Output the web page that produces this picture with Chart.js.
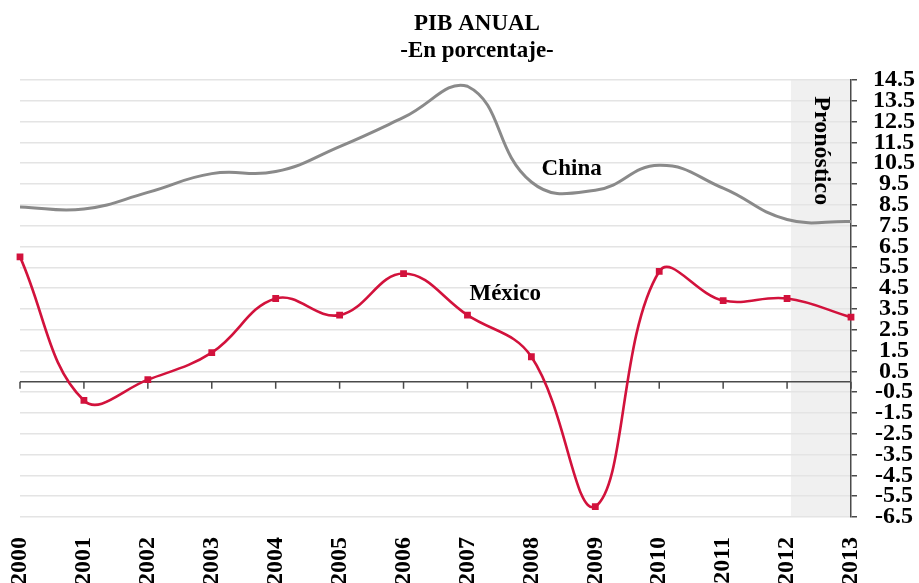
<!DOCTYPE html>
<html>
<head>
<meta charset="utf-8">
<script src="https://cdn.jsdelivr.net/npm/chart.js@4.4.1/dist/chart.umd.min.js"></script>
<style>
  html, body { margin: 0; padding: 0; background: #fff; overflow: hidden; }
  #wrap { width: 919px; height: 590px; }
</style>
</head>
<body>
<div id="wrap">
  <canvas id="pibChart" width="919" height="590"></canvas>
</div>

<script>
  // datos
  const years = ["2000", "2001", "2002", "2003", "2004", "2005", "2006",
                 "2007", "2008", "2009", "2010", "2011", "2012", "2013"];
  const mexico = [6.0, -0.9, 0.1, 1.4, 4.0, 3.2, 5.2, 3.2, 1.2, -6.0, 5.3, 3.9, 4.0, 3.1];
  const china = [8.4, 8.3, 9.1, 10.0, 10.1, 11.3, 12.7, 14.2, 9.6, 9.2, 10.4, 9.3, 7.8, 7.7];
  const yTicks = [14.5, 13.5, 12.5, 11.5, 10.5, 9.5, 8.5, 7.5, 6.5, 5.5, 4.5, 3.5, 2.5,
                  1.5, 0.5, -0.5, -1.5, -2.5, -3.5, -4.5, -5.5, -6.5];
  const forecastStart = 12.06; // inicio de la zona "Pronóstico" (indice de categoria)

  const FONT = '"Liberation Serif", "Times New Roman", serif';
  const CANVAS_H = 590;

  // zona sombreada del pronostico
  const forecastBand = {
    id: "forecastBand",
    beforeDraw(chart) {
      const { ctx, chartArea, scales } = chart;
      const x0 = scales.x.getPixelForValue(forecastStart);
      ctx.save();
      ctx.fillStyle = "#f0f0f0";
      ctx.fillRect(x0, chartArea.top, chartArea.right - x0, chartArea.bottom - chartArea.top);
      ctx.restore();
    },
  };

  // linea del cero con marcas por año
  const zeroAxis = {
    id: "zeroAxis",
    beforeDatasetsDraw(chart) {
      const { ctx, chartArea, scales } = chart;
      const y0 = scales.y.getPixelForValue(0);
      ctx.save();
      ctx.strokeStyle = "#4a4a4a";
      ctx.lineWidth = 1.5;
      ctx.beginPath();
      ctx.moveTo(chartArea.left, y0);
      ctx.lineTo(chartArea.right, y0);
      years.forEach((_, i) => {
        const x = scales.x.getPixelForValue(i);
        ctx.moveTo(x, y0);
        ctx.lineTo(x, y0 + 7);
      });
      ctx.stroke();
      ctx.restore();
    },
  };

  // titulo y etiquetas de texto
  const textLabels = {
    id: "textLabels",
    afterDraw(chart) {
      const { ctx, scales } = chart;
      ctx.save();
      ctx.fillStyle = "#000";
      ctx.font = "bold 23px " + FONT;
      ctx.textAlign = "center";
      ctx.textBaseline = "alphabetic";
      ctx.fillText("PIB ANUAL", 477, 30);
      ctx.fillText("-En porcentaje-", 477, 56.5);

      ctx.textBaseline = "middle";
      ctx.fillText("China", scales.x.getPixelForValue(8.63), scales.y.getPixelForValue(10.2));
      ctx.fillText("México", scales.x.getPixelForValue(7.59), scales.y.getPixelForValue(4.2));

      ctx.font = "bold 24px " + FONT;
      ctx.translate(scales.x.getPixelForValue(12.53), scales.y.getPixelForValue(11.1));
      ctx.rotate(Math.PI / 2);
      ctx.fillText("Pronóstico", 0, 0);
      ctx.restore();
    },
  };

  document.addEventListener("DOMContentLoaded", function () {
    const ctx = document.getElementById("pibChart").getContext("2d");
    new Chart(ctx, {
      type: "line",
      data: {
        labels: years,
        datasets: [
          {
            label: "México",
            data: mexico,
            borderColor: "#d2123c",
            backgroundColor: "#d2123c",
            borderWidth: 2.6,
            pointStyle: "rect",
            pointRadius: 4.8,
            pointBorderWidth: 0,
            tension: 0.4,
          },
          {
            label: "China",
            data: china,
            borderColor: "#8a8a8a",
            borderWidth: 3,
            pointRadius: 0,
            tension: 0.45,
          },
        ],
      },
      options: {
        responsive: false,
        animation: false,
        devicePixelRatio: 1,
        layout: {
          autoPadding: false,
          padding: { top: 80, right: 4, left: 16, bottom: 0 },
        },
        plugins: {
          legend: { display: false },
          tooltip: { enabled: false },
        },
        scales: {
          x: {
            offset: false,
            grid: { display: false, drawTicks: false },
            border: { display: false },
            afterFit: (axis) => { axis.height = CANVAS_H - 517; },
            ticks: {
              autoSkip: false,
              minRotation: 90,
              maxRotation: 90,
              padding: 20,
              color: "#000",
              font: { family: FONT, size: 24, weight: "bold" },
            },
          },
          y: {
            position: "right",
            min: -6.5,
            max: 14.5,
            afterBuildTicks: (axis) => {
              axis.ticks = yTicks.map((v) => ({ value: v }));
            },
            afterFit: (axis) => { axis.width = 64; },
            grid: {
              color: "#e4e4e4",
              lineWidth: 1.5,
              tickColor: "#4a4a4a",
              tickLength: 6,
            },
            border: { color: "#4a4a4a", width: 1.5 },
            ticks: {
              autoSkip: false,
              crossAlign: "center",
              padding: 16,
              color: "#000",
              font: { family: FONT, size: 24, weight: "bold" },
              callback: (value) => value.toFixed(1),
            },
          },
        },
      },
      plugins: [forecastBand, zeroAxis, textLabels],
    });
  });
</script>
</body>
</html>
